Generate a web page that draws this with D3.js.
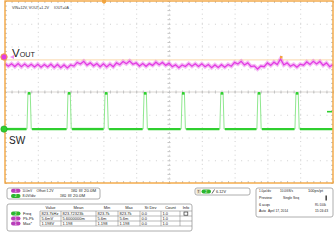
<!DOCTYPE html>
<html><head><meta charset="utf-8">
<script src="https://cdn.jsdelivr.net/npm/d3@7"></script>
<style>
body{margin:0;background:#fff}
svg{display:block}
text{font-family:"Liberation Sans",Arial,sans-serif}
</style>
</head><body>
<svg id="c" width="336" height="241"></svg>
<script>
// ---------- data ----------
const timeDomain = [0, 10];           // µs (1.0 µs/div, 10 div)
const divDomain = [-4, 4];            // vertical divisions
const voutStep = 0.1;                 // µs between VOUT samples
// VOUT ripple, mV relative to the 1.2 V offset
const voutMv = [-2.9,-4.1,-3.0,-4.2,-2.9,-4.3,-3.1,-4.3,-3.2,-4.4,
  -3.2,-4.5,-3.3,-4.4,-3.2,-4.6,-3.3,-4.7,-3.5,-4.8,
  -3.5,-4.0,-2.4,-3.1,-1.9,-3.6,-2.6,-3.9,-2.9,-4.3,
  -3.0,-4.4,-3.1,-4.3,-2.6,-3.4,-2.0,-3.0,-1.8,-3.2,
  -2.6,-4.0,-2.9,-4.1,-2.9,-3.7,-2.3,-3.4,-2.4,-3.7,
  -2.7,-4.3,-3.4,-4.7,-3.5,-4.2,-2.9,-4.1,-3.0,-4.2,
  -3.0,-4.3,-3.3,-4.7,-3.5,-4.6,-3.4,-4.5,-3.3,-4.1,
  -2.4,-3.1,-1.9,-3.5,-2.6,-4.2,-3.9,-5.3,-4.0,-4.3,
  -2.6,-3.7,-2.3,-3.3,-0.9,-3.5,-2.6,-4.1,-3.3,-4.5,
  -3.2,-3.6,-2.2,-3.3,-1.9,-3.1,-2.0,-3.7,-2.6,-4.3,-3.3];
// SW node pulses: rising-edge times (µs)
const swRise = [0.67, 1.89, 3.02, 4.21, 5.37, 6.55, 7.68, 8.84];
const swWidth = 0.13;   // µs
const swLow = 0;        // V
const swHigh = 12.6;    // V
const ch1PosDiv = 1.54, ch1MvPerDiv = 10;
const ch2PosDiv = -1.63, ch2VPerDiv = 8;
const trigTime = 3.02, trigLevelV = 6.12;

const titleText = ["VIN=12V, VOUT=1.2V", "IOUT=0A"];
const chanRows = [
  {ch:"1", items:["10.0mV","Offset:1.2V","1MΩ","20.0M"]},
  {ch:"2", items:["8.0V/div","1MΩ","20.0M"]}
];
const measHeaders = ["Value","Mean","Min","Max","St Dev","Count","Info"];
const measNames = ["Freq","Pk-Pk","Max*"];
const measCh = ["2","1","1"];
const measValue = ["823.7kHz","5.6mV","1.198V"];
const measMean = ["823.72323k","5.6000000m","1.198"];
const measMin = ["823.7k","5.6m","1.198"];
const measMax = ["823.7k","5.6m","1.198"];
const measStd = ["0.0","0.0","0.0"];
const measCount = ["1.0","1.0","1.0"];
const trigText = "6.12V";
const acqRows = [
  ["1.0µs/div","10.0GS/s","100ps/pt"],
  ["Preview","Single Seq",""],
  ["6 acqs","","RL:100k"],
  ["Auto","April 17, 2014","15:24:43"]
];

// ---------- colours ----------
const C1 = "#e23ce2", C2 = "#2fcf2f", ORANGE = "#f2a540", GRID = "#cfcfcf";

const svg = d3.select("#c");
const x = d3.scaleLinear().domain(timeDomain).range([5, 333]);
const y = d3.scaleLinear().domain(divDomain).range([183, 1]);
const yV1 = mv => y(ch1PosDiv + mv / ch1MvPerDiv);
const yV2 = v => y(ch2PosDiv + v / ch2VPerDiv);

// ---------- graticule ----------
const grid = svg.append("g");
grid.append("g").attr("transform", `translate(0,${y(-4)})`)
  .call(d3.axisBottom(x).tickValues(d3.range(1, 10)).tickSize(-(y(-4) - y(4))).tickFormat(""))
  .call(g => g.select(".domain").remove())
  .call(g => g.selectAll("line").attr("stroke", GRID).attr("stroke-dasharray", "1,3.55"));
grid.append("g").attr("transform", `translate(${x(0)},0)`)
  .call(d3.axisRight(y).tickValues(d3.range(-3, 4)).tickSize(x(10) - x(0)).tickFormat(""))
  .call(g => g.select(".domain").remove())
  .call(g => g.selectAll("line").attr("stroke", GRID).attr("stroke-dasharray", "1,5.56"));
const minorX = d3.range(0, 10.001, 0.2), minorY = d3.range(-4, 4.001, 0.2);
grid.append("g").attr("transform", `translate(0,${y(0) + 1.5})`)
  .call(d3.axisTop(x).tickValues(minorX).tickSize(3).tickFormat(""))
  .call(g => g.select(".domain").attr("stroke", "#c4beb6").attr("stroke-width", 0.6).attr("d", `M${x(0)},-1.5H${x(10)}`))
  .call(g => g.selectAll("line").attr("stroke", "#c4c4c4"));
grid.append("g").attr("transform", `translate(${x(5) - 1.5},0)`)
  .call(d3.axisRight(y).tickValues(minorY).tickSize(3).tickFormat(""))
  .call(g => g.select(".domain").remove())
  .call(g => g.selectAll("line").attr("stroke", "#c4c4c4"));
[[d3.axisTop, y(-4)], [d3.axisBottom, y(4)]].forEach(([ax, ty]) =>
  grid.append("g").attr("transform", `translate(0,${ty})`)
    .call(ax(x).tickValues(minorX).tickSize(2).tickFormat(""))
    .call(g => g.select(".domain").remove())
    .call(g => g.selectAll("line").attr("stroke", "#c4c4c4")));
[[d3.axisRight, x(0)], [d3.axisLeft, x(10)]].forEach(([ax, tx]) =>
  grid.append("g").attr("transform", `translate(${tx},0)`)
    .call(ax(y).tickValues(minorY).tickSize(2).tickFormat(""))
    .call(g => g.select(".domain").remove())
    .call(g => g.selectAll("line").attr("stroke", "#c4c4c4")));

// faint reference line under VOUT
svg.append("line").attr("x1", x(0)).attr("x2", x(10))
  .attr("y1", yV1(0) + 3).attr("y2", yV1(0) + 3)
  .attr("stroke", "#fbdfbd").attr("stroke-width", 1.2);

// ---------- VOUT trace ----------
const voutLine = d3.line().x((d, i) => x(i * voutStep)).y(d => yV1(d));
svg.append("path").datum(voutMv).attr("d", voutLine)
  .attr("fill", "none").attr("stroke", C1).attr("stroke-opacity", 0.35).attr("stroke-width", 4);
svg.append("path").datum(voutMv).attr("d", voutLine)
  .attr("fill", "none").attr("stroke", C1).attr("stroke-width", 1.3);

// ---------- SW trace ----------
const swPts = [[timeDomain[0], swLow]];
swRise.forEach(r => {
  swPts.push([r, swLow], [r + 0.03, swHigh], [r + swWidth - 0.03, swHigh], [r + swWidth, swLow]);
});
swPts.push([timeDomain[1], swLow]);
svg.append("path").datum(swPts)
  .attr("d", d3.line().x(d => x(d[0])).y(d => yV2(d[1])))
  .attr("fill", "none").attr("stroke", "#8fe88f").attr("stroke-width", 1);
const lows = [[timeDomain[0], swRise[0]]];
swRise.forEach((r, i) => lows.push([r + swWidth, i + 1 < swRise.length ? swRise[i + 1] : timeDomain[1]]));
svg.append("g").selectAll("line").data(lows).join("line")
  .attr("x1", d => x(d[0]) + 0.8).attr("x2", d => x(d[1]) - 0.5)
  .attr("y1", yV2(swLow)).attr("y2", yV2(swLow))
  .attr("stroke", C2).attr("stroke-width", 2.4);
svg.append("g").selectAll("rect").data(swRise).join("rect")
  .attr("x", d => x(d + 0.025)).attr("y", yV2(swHigh) - 1.2)
  .attr("width", x(swWidth - 0.05) - x(0)).attr("height", 2.6)
  .attr("fill", C2);

// ---------- frame & markers ----------
svg.append("rect").attr("x", x(0)).attr("y", y(4)).attr("width", x(10) - x(0)).attr("height", y(-4) - y(4))
  .attr("fill", "none").attr("stroke", ORANGE).attr("stroke-width", 1.4);
svg.append("path").attr("d", `M${x(trigTime) - 2},0H${x(trigTime) + 2}V2.5L${x(trigTime)},4L${x(trigTime) - 2},2.5Z`).attr("fill", ORANGE);
svg.append("circle").attr("cx", 4).attr("cy", yV1(0)).attr("r", 3.2).attr("fill", C1).attr("stroke", ORANGE).attr("stroke-width", 1);
svg.append("path").attr("d", `M10,${yV1(0)}l4,-2v4z`).attr("fill", "#f08ef0");
svg.append("rect").attr("x", 280).attr("y", yV1(0) - 1).attr("width", 2.5).attr("height", 2.5).attr("fill", ORANGE);
svg.append("circle").attr("cx", 4).attr("cy", yV2(0)).attr("r", 3.2).attr("fill", C2).attr("stroke", "#1e9e1e").attr("stroke-width", 0.6);
svg.append("line").attr("x1", 327).attr("x2", 332).attr("y1", yV2(trigLevelV)).attr("y2", yV2(trigLevelV))
  .attr("stroke", C2).attr("stroke-width", 1.6);

// ---------- text helper ----------
const tc = "#222";
function txt(x0, yc, s, w, opts) {
  opts = opts || {};
  const t = svg.append("text").attr("x", x0).attr("y", yc + 1.4)
    .attr("font-size", opts.fs || 4).attr("fill", opts.fill || tc)
    .attr("text-anchor", opts.anchor || "start").text(s);
  if (w) t.attr("textLength", w).attr("lengthAdjust", "spacingAndGlyphs");
  return t;
}

// ---------- labels ----------
txt(12, 8, titleText[0], 37, {fs: 4, fill: "#333"});
txt(54, 8, titleText[1], 15, {fs: 4, fill: "#333"});
const vt = svg.append("text").attr("x", 12).attr("y", 56.8).attr("fill", "#222");
vt.append("tspan").attr("font-size", 11.5).text("V");
vt.append("tspan").attr("font-size", 7.2).text("OUT");
svg.append("text").attr("x", 9).attr("y", 144).attr("font-size", 10).attr("fill", "#222").text("SW");

// ---------- bottom panels ----------
function box(x0, y0, w, h) {
  svg.append("rect").attr("x", x0).attr("y", y0).attr("width", w).attr("height", h).attr("rx", 2)
    .attr("fill", "#fff").attr("stroke", "#9a9a9a").attr("stroke-width", 0.8);
}
function badge(x0, yc, ch) {
  svg.append("rect").attr("x", x0).attr("y", yc - 2).attr("width", 9.5).attr("height", 4).attr("rx", 2)
    .attr("fill", ch === "1" ? "#b83cb8" : "#2db52d");
  svg.append("text").attr("x", x0 + 4.75).attr("y", yc + 1.3).attr("font-size", 3.4).attr("text-anchor", "middle")
    .attr("fill", "#fff").text(ch);
}
// channel box
box(7, 188, 93, 11);
badge(11, 190.8, chanRows[0].ch);
txt(22.5, 190.8, chanRows[0].items[0], 9.5);
txt(36.5, 190.8, chanRows[0].items[1], 17);
txt(71, 190.8, chanRows[0].items[2], 6);
txt(79, 190.8, "BW", 3.5, {fs: 3});
txt(84, 190.8, chanRows[0].items[3], 12);
badge(11, 196, chanRows[1].ch);
txt(22.5, 196, chanRows[1].items[0], 13);
txt(60, 196, chanRows[1].items[1], 6);
txt(68, 196, "BW", 3.5, {fs: 3});
txt(73, 196, chanRows[1].items[2], 12);

// measurement table
box(7, 204, 185, 27);
const colB = [40, 61, 96, 118, 140, 161, 180, 192];
const rowB = [211, 216, 221, 226];
measHeaders.forEach((h, i) => txt((colB[i] + colB[i + 1]) / 2, 207.6, h, null, {anchor: "middle"}));
svg.append("g").selectAll("line.h").data(rowB).join("line")
  .attr("x1", colB[0]).attr("x2", colB[colB.length - 1]).attr("y1", d => d).attr("y2", d => d)
  .attr("stroke", "#8a8a8a").attr("stroke-width", 0.6);
svg.append("g").selectAll("line.v").data(colB.slice(0, -1)).join("line")
  .attr("x1", d => d).attr("x2", d => d).attr("y1", rowB[0]).attr("y2", rowB[rowB.length - 1])
  .attr("stroke", "#8a8a8a").attr("stroke-width", 0.6);
const cols = [measValue, measMean, measMin, measMax, measStd, measCount];
measNames.forEach((n, r) => {
  const yc = (rowB[r] + rowB[r + 1]) / 2;
  badge(11, yc, measCh[r]);
  txt(23, yc, n);
  cols.forEach((arr, c) => {
    const w = colB[c + 1] - colB[c] - 3;
    const t = txt(colB[c] + 1.5, yc, arr[r]);
    if (t.node().getComputedTextLength() > w) t.attr("textLength", w).attr("lengthAdjust", "spacingAndGlyphs");
  });
});
svg.append("rect").attr("x", 184).attr("y", 212).attr("width", 3.8).attr("height", 3.2)
  .attr("fill", "#fff").attr("stroke", "#333").attr("stroke-width", 0.7);

// trigger box
box(195, 188, 55, 7);
svg.append("rect").attr("x", 196.5).attr("y", 189.2).attr("width", 4.5).attr("height", 4.6).attr("fill", "#e9dcc0");
svg.append("text").attr("x", 197.3).attr("y", 193.2).attr("font-size", 4).attr("fill", "#333").text("T");
badge(201.5, 191.5, "2");
svg.append("path").attr("d", "M212,193.5l2.5,-4").attr("stroke", "#222").attr("stroke-width", 0.7);
txt(216, 191.5, trigText, 10);

// acquisition box
box(256, 188, 77, 29);
const acqY = [191, 197.8, 204.6, 211];
const acqPos = [
  [[259, 12], [280, 13], [308, 15]],
  [[259, 13], [283, 16], null],
  [[259, 11], null, [315, 11]],
  [[259, 7], [268, 20], [315, 13]]
];
acqRows.forEach((row, r) => row.forEach((s, c) => {
  if (s && acqPos[r][c]) txt(acqPos[r][c][0], acqY[r], s, acqPos[r][c][1]);
}));
svg.append("rect").attr("x", 325.5).attr("y", 195.5).attr("width", 1.3).attr("height", 5).attr("fill", "#222");
</script>
</body></html>
